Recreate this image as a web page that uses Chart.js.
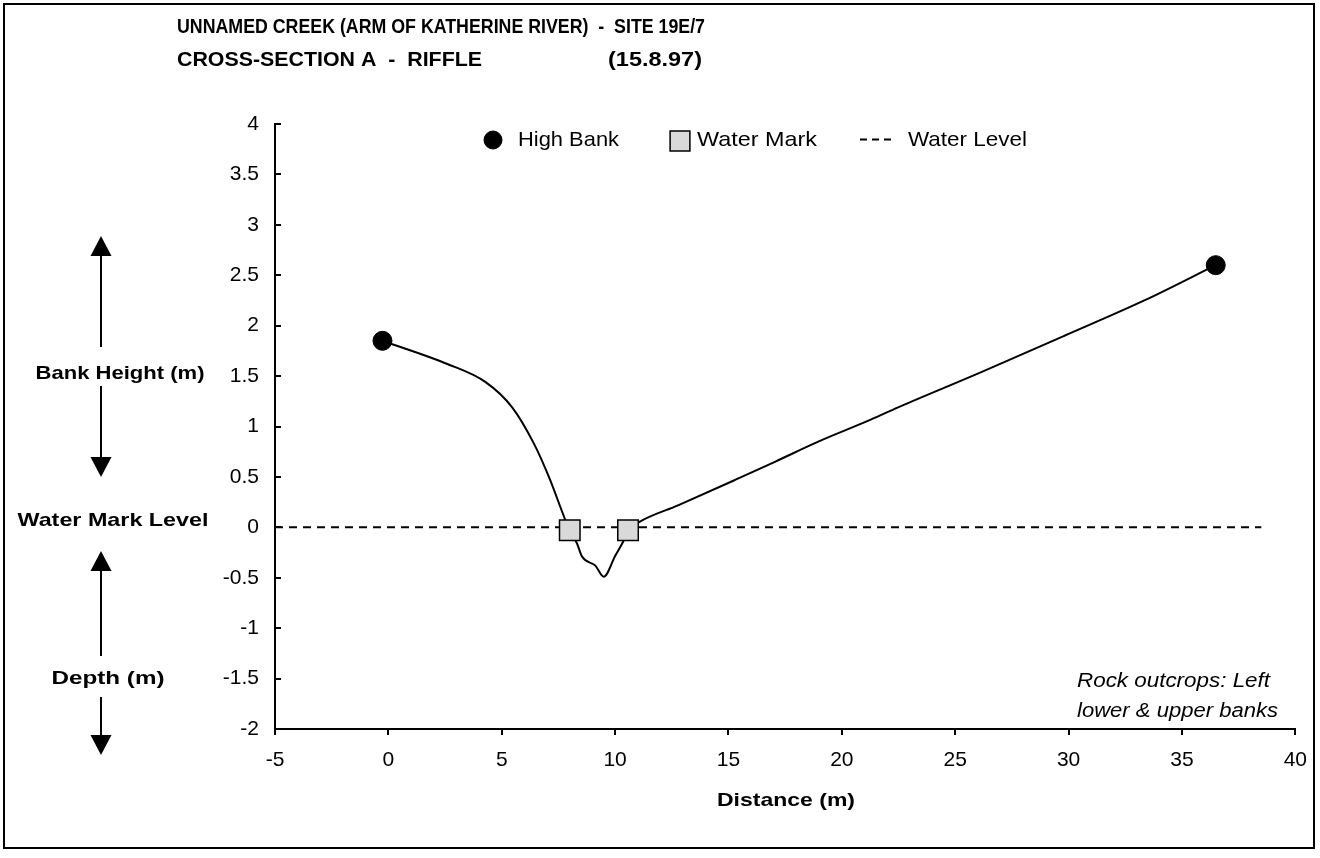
<!DOCTYPE html>
<html><head><meta charset="utf-8">
<script src="https://cdn.jsdelivr.net/npm/chart.js@4.4.0/dist/chart.umd.min.js"></script>
<style>html,body{margin:0;padding:0;background:#fff;overflow:hidden}#wrap{position:relative;width:1320px;height:858px}canvas{display:block}</style>
</head><body><div id="wrap"><canvas id="c" width="1320" height="858"></canvas></div>
<script>
// ---- data ----
const profileX = [-0.26, 2.6, 4.29, 5.46, 6.42, 7.08, 7.81, 8.0, 8.32, 8.54, 9.13, 9.5, 10.01, 10.38, 10.57, 11.04, 12.8, 15.29, 17.05, 18.96, 21.3, 22.48, 26.15, 29.82, 33.34, 36.49];
const profileY = [1.85, 1.62, 1.44, 1.19, 0.83, 0.50, 0.07, -0.03, -0.16, -0.29, -0.38, -0.49, -0.28, -0.13, -0.03, 0.05, 0.22, 0.47, 0.65, 0.85, 1.07, 1.19, 1.54, 1.90, 2.25, 2.60];
const highBankX = [-0.26, 36.49];
const highBankY = [1.85, 2.60];
const waterMarkX = [8.0, 10.57];
const waterMarkY = [-0.03, -0.03];
const waterLevelX = [-5, 38.5];
const waterLevelY = [0, 0];
const xTickValues = [-5, 0, 5, 10, 15, 20, 25, 30, 35, 40];
const xTickLabels = ['-5', '0', '5', '10', '15', '20', '25', '30', '35', '40'];
const yTickValues = [-2, -1.5, -1, -0.5, 0, 0.5, 1, 1.5, 2, 2.5, 3, 3.5, 4];
const yTickLabels = ['-2', '-1.5', '-1', '-0.5', '0', '0.5', '1', '1.5', '2', '2.5', '3', '3.5', '4'];
const seriesNames = ['High Bank', 'Water Mark', 'Profile', 'Water Level'];
const titleLine1 = 'UNNAMED CREEK (ARM OF KATHERINE RIVER)  -  SITE 19E/7';
const titleLine2a = 'CROSS-SECTION A  -  RIFFLE';
const titleLine2b = '(15.8.97)';
const xAxisTitle = 'Distance (m)';
const sideLabels = ['Bank Height (m)', 'Water Mark Level', 'Depth (m)'];
const noteLines = ['Rock outcrops: Left', 'lower & upper banks'];

const toPts = (xs, ys) => xs.map((x, i) => ({x: x, y: ys[i]}));
const FONT = "'Liberation Sans', Arial, Helvetica, sans-serif";

function fitText(ctx, text, x, y, font, width, align) {
  ctx.save();
  ctx.font = font; ctx.textBaseline = 'middle'; ctx.fillStyle = '#000'; ctx.textAlign = 'left';
  const w = ctx.measureText(text).width;
  const s = width ? width / w : 1;
  const tw = w * s;
  const x0 = align === 'center' ? x - tw / 2 : align === 'right' ? x - tw : x;
  ctx.translate(x0, y); ctx.scale(s, 1); ctx.fillText(text, 0, 0);
  ctx.restore();
}

function arrow(ctx, x, yShaftEnd, yTip, dir) {
  const headH = 20, headW = 10.5;
  const base = yTip - dir * headH;
  ctx.save();
  ctx.strokeStyle = '#000'; ctx.fillStyle = '#000'; ctx.lineWidth = 2;
  ctx.beginPath(); ctx.moveTo(x, yShaftEnd); ctx.lineTo(x, base); ctx.stroke();
  ctx.beginPath(); ctx.moveTo(x, yTip); ctx.lineTo(x - headW, base); ctx.lineTo(x + headW, base); ctx.closePath(); ctx.fill();
  ctx.restore();
}

const decor = {
  id: 'decor',
  afterDraw(chart) {
    const ctx = chart.ctx;
    const ys = chart.scales.y;
    ctx.save();
    ctx.strokeStyle = '#000'; ctx.lineWidth = 2;
    const ax = chart.chartArea.left;
    yTickValues.forEach(v => {
      const py = Math.round(ys.getPixelForValue(v));
      ctx.beginPath(); ctx.moveTo(ax, py); ctx.lineTo(ax + 6, py); ctx.stroke();
    });
    ctx.restore();
    ctx.save(); ctx.strokeStyle = '#000'; ctx.lineWidth = 2;
    ctx.strokeRect(4, 4, 1310, 844); ctx.restore();
    const tf = 'bold 21px ' + FONT;
    fitText(ctx, titleLine1, 177, 27, tf, 528, 'left');
    fitText(ctx, titleLine2a, 177, 60, tf, 305, 'left');
    fitText(ctx, titleLine2b, 608, 60, tf, 94, 'left');
    fitText(ctx, xAxisTitle, 786, 801, 'bold 19px ' + FONT, 138, 'center');
    const sf = 'bold 19px ' + FONT;
    fitText(ctx, sideLabels[0], 120, 374, sf, 169, 'center');
    fitText(ctx, sideLabels[1], 113, 521, sf, 191, 'center');
    fitText(ctx, sideLabels[2], 108, 679, sf, 113, 'center');
    arrow(ctx, 101, 347, 236, -1);
    arrow(ctx, 101, 386, 477, 1);
    arrow(ctx, 101, 656, 551, -1);
    arrow(ctx, 101, 697, 755, 1);
    const nf = 'italic 20px ' + FONT;
    fitText(ctx, noteLines[0], 1077, 681, nf, 193, 'left');
    fitText(ctx, noteLines[1], 1077, 711, nf, 201, 'left');
    const ds = chart.data.datasets;
    const lf = '21px ' + FONT;
    ctx.save();
    ctx.fillStyle = ds[0].backgroundColor; ctx.strokeStyle = ds[0].borderColor; ctx.lineWidth = 1;
    Chart.helpers.drawPoint(ctx, {pointStyle: 'circle', radius: 9, borderWidth: 1, rotation: 0}, 493, 140);
    ctx.restore();
    fitText(ctx, ds[0].label, 518, 140, lf, 101, 'left');
    ctx.save();
    ctx.fillStyle = ds[1].backgroundColor; ctx.strokeStyle = ds[1].borderColor; ctx.lineWidth = ds[1].borderWidth;
    Chart.helpers.drawPoint(ctx, {pointStyle: 'rect', radius: 14, borderWidth: ds[1].borderWidth, rotation: 0}, 680, 141);
    ctx.restore();
    fitText(ctx, ds[1].label, 697, 140, lf, 120, 'left');
    ctx.save();
    ctx.strokeStyle = ds[3].borderColor; ctx.lineWidth = ds[3].borderWidth; ctx.setLineDash([7, 5]);
    ctx.beginPath(); ctx.moveTo(860, 139.5); ctx.lineTo(893, 139.5); ctx.stroke();
    ctx.restore();
    fitText(ctx, ds[3].label, 908, 140, lf, 119, 'left');
  }
};

new Chart(document.getElementById('c'), {
  type: 'scatter',
  data: {
    datasets: [
      {label: seriesNames[0], data: toPts(highBankX, highBankY), showLine: false, pointStyle: 'circle', pointRadius: 9.5, pointHoverRadius: 9.5, backgroundColor: '#000', borderColor: '#000', borderWidth: 1},
      {label: seriesNames[1], data: toPts(waterMarkX, waterMarkY), showLine: false, pointStyle: 'rect', pointRadius: 14.5, pointHoverRadius: 14.5, backgroundColor: '#d9d9d9', borderColor: '#000', borderWidth: 1.5},
      {label: seriesNames[2], data: toPts(profileX, profileY), showLine: true, pointRadius: 0, borderColor: '#000', borderWidth: 2, cubicInterpolationMode: 'monotone', fill: false},
      {label: seriesNames[3], data: toPts(waterLevelX, waterLevelY), showLine: true, pointRadius: 0, borderColor: '#000', borderWidth: 2, borderDash: [8, 6], fill: false}
    ]
  },
  options: {
    responsive: false, animation: false, devicePixelRatio: 1,
    layout: {padding: {top: 124, right: 23, left: 0, bottom: 0}},
    plugins: {legend: {display: false}, title: {display: false}, tooltip: {enabled: false}},
    scales: {
      x: {
        type: 'linear', min: -5, max: 40,
        afterBuildTicks: s => { s.ticks = xTickValues.map(v => ({value: v})); },
        afterFit: s => { s.height = 129; },
        ticks: {color: '#000', font: {family: FONT, size: 21}, padding: 13, maxRotation: 0, autoSkip: false,
          callback: (v) => xTickLabels[xTickValues.indexOf(v)]},
        grid: {display: true, drawOnChartArea: false, drawTicks: true, tickLength: 6, color: '#000', lineWidth: 2},
        border: {display: true, color: '#000', width: 2}
      },
      y: {
        type: 'linear', min: -2, max: 4,
        afterBuildTicks: s => { s.ticks = yTickValues.map(v => ({value: v})); },
        afterFit: s => { s.width = 275; },
        ticks: {color: '#000', font: {family: FONT, size: 21}, padding: 8, autoSkip: false,
          callback: (v) => yTickLabels[yTickValues.indexOf(v)]},
        grid: {display: false},
        border: {display: true, color: '#000', width: 2}
      }
    }
  },
  plugins: [decor]
});
</script>
</body></html>
